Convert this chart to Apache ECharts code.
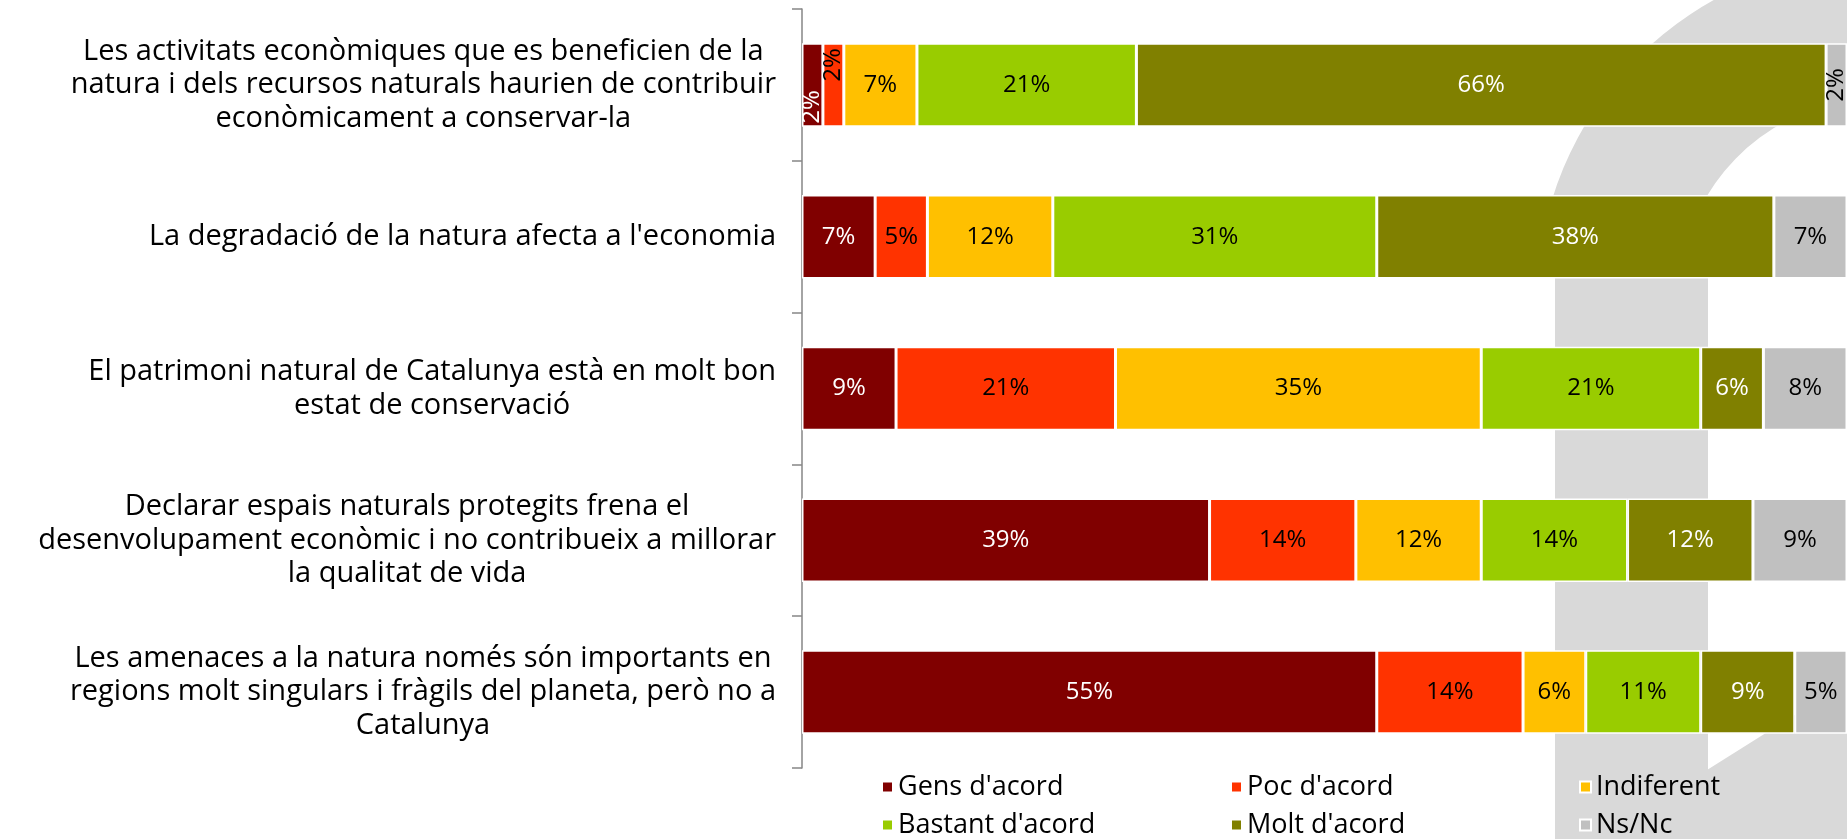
<!DOCTYPE html>
<html>
<head>
<meta charset="utf-8">
<script src="https://cdn.jsdelivr.net/npm/echarts@6/dist/echarts.min.js"></script>
<style>
    html, body { margin: 0; padding: 0; background: #fff; }
    #chartbar { width: 1847px; height: 839px; }
</style>
</head>
<body>
<div id="chartbar"></div>
<script>
var categories = [
    'Les activitats econòmiques que es beneficien de la\nnatura i dels recursos naturals haurien de contribuir\neconòmicament a conservar-la',
    "La degradació de la natura afecta a l'economia",
    'El patrimoni natural de Catalunya està en molt bon\nestat de conservació',
    'Declarar espais naturals protegits frena el\ndesenvolupament econòmic i no contribueix a millorar\nla qualitat de vida',
    'Les amenaces a la natura només són importants en\nregions molt singulars i fràgils del planeta, però no a\nCatalunya'
];
var seriesNames = ["Gens d'acord", "Poc d'acord", 'Indiferent', "Bastant d'acord", "Molt d'acord", 'Ns/Nc'];
var gensAcord = [2, 7, 9, 39, 55];
var pocAcord = [2, 5, 21, 14, 14];
var indiferent = [7, 12, 35, 12, 6];
var bastantAcord = [21, 31, 21, 14, 11];
var moltAcord = [66, 38, 6, 12, 9];
var nsNc = [2, 7, 8, 9, 5];

var colors = ['#800000', '#FF3300', '#FFC000', '#99CC00', '#808000', '#C0C0C0'];
var labelColors = ['#fff', '#000', '#000', '#000', '#fff', '#000'];
// offset of rotated labels for very thin segments (rotated frame: +x goes up)
var thinOffsets = [[-22, 0], [20, 0], [-4, 0], [0, 0], [0, 0], [0, 0]];
var fontName = "'Open Sans', sans-serif";

var allValues = [gensAcord, pocAcord, indiferent, bastantAcord, moltAcord, nsNc];

var myBarChart = echarts.init(document.getElementById('chartbar'));

var series = allValues.map(function (vals, i) {
    return {
        type: 'bar',
        name: seriesNames[i],
        stack: 'total',
        barWidth: '55%',
        itemStyle: {color: colors[i], borderColor: '#fff', borderWidth: 1.5},
        label: {
            show: true,
            position: 'inside',
            formatter: '{c}%',
            color: labelColors[i],
            fontFamily: fontName,
            fontSize: 24
        },
        data: vals.map(function (v) {
            if (v < 3) {
                return {value: v, label: {rotate: 90, offset: thinOffsets[i], color: labelColors[i], textBorderWidth: 0}};
            }
            return v;
        })
    };
});

myBarChart.setOption({
    animation: false,
    textStyle: {fontFamily: fontName},
    grid: {left: 802, right: 0, top: 9, bottom: 71},
    graphic: [
        // light grey background logo
        {type: 'sector', z: -10, shape: {cx: 1880, cy: 300, r: 343, r0: 202, startAngle: 197 * Math.PI / 180, endAngle: 2 * Math.PI}, style: {fill: '#D9D9D9'}},
        {type: 'rect', z: -10, shape: {x: 1555, y: 200, width: 153, height: 639}, style: {fill: '#D9D9D9'}},
        {type: 'polygon', z: -10, shape: {points: [[1707, 770], [1847, 682], [1847, 839], [1707, 839]]}, style: {fill: '#D9D9D9'}}
    ],
    legend: {
        left: 881,
        top: 773,
        width: 1100,
        padding: 0,
        icon: 'rect',
        itemWidth: 11,
        itemHeight: 11,
        itemGap: 10,
        textStyle: {fontFamily: fontName, fontSize: 27, color: '#000', width: 322, lineHeight: 28},
        data: seriesNames
    },
    xAxis: {
        type: 'value',
        min: 0,
        max: 100,
        show: false
    },
    yAxis: {
        type: 'category',
        inverse: true,
        data: categories,
        axisLine: {lineStyle: {color: '#868686', width: 1.5}},
        axisTick: {show: true, length: 10, lineStyle: {color: '#868686', width: 1.5}},
        axisLabel: {
            margin: 26,
            formatter: function (v) {
                return v.split('\n').map(function (s) { return '{c|' + s + '}'; }).join('\n');
            },
            rich: {
                c: {align: 'center', fontFamily: fontName, fontSize: 29, lineHeight: 33.6, color: '#000'}
            }
        }
    },
    series: series
});
</script>
</body>
</html>
